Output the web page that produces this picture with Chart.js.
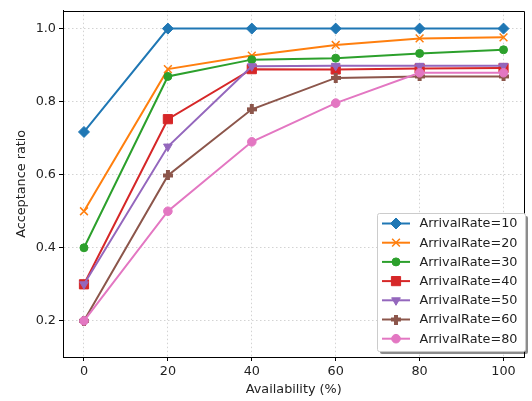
<!DOCTYPE html>
<html>
<head>
<meta charset="utf-8">
<script src="https://cdn.jsdelivr.net/npm/chart.js@4.4.0/dist/chart.umd.min.js"></script>
<style>
  html, body { margin: 0; padding: 0; background: #fff; }
  canvas { display: block; }
</style>
</head>
<body>
<canvas id="graficoAceitacao" width="532" height="401"></canvas>
<script>
// dados
const availability = [0, 20, 40, 60, 80, 100];
const seriesNames = ['ArrivalRate=10', 'ArrivalRate=20', 'ArrivalRate=30', 'ArrivalRate=40',
                     'ArrivalRate=50', 'ArrivalRate=60', 'ArrivalRate=80'];
const rate10 = [0.717, 1.0, 1.0, 1.0, 1.0, 1.0];
const rate20 = [0.5, 0.889, 0.926, 0.955, 0.973, 0.976];
const rate30 = [0.4, 0.869, 0.915, 0.919, 0.932, 0.942];
const rate40 = [0.3, 0.752, 0.889, 0.888, 0.891, 0.892];
const rate50 = [0.3, 0.677, 0.897, 0.898, 0.898, 0.898];
const rate60 = [0.2, 0.598, 0.779, 0.865, 0.869, 0.869];
const rate80 = [0.2, 0.5, 0.69, 0.796, 0.879, 0.879];
const yTicks = [0.2, 0.4, 0.6, 0.8, 1.0];
const xTicks = [0, 20, 40, 60, 80, 100];

const cores = ['#1f77b4', '#ff7f0e', '#2ca02c', '#d62728', '#9467bd', '#8c564b', '#e377c2'];
const fonte = 'DejaVu Sans';
const tamanho = 12.8;

// marcador "P" (cruz preenchida) feito num canvas pequeno
function criarCruz(cor) {
    const c = document.createElement('canvas');
    c.width = 10; c.height = 10;
    const g = c.getContext('2d');
    g.fillStyle = cor;
    g.fillRect(3, 0, 4, 10);
    g.fillRect(0, 3, 10, 4);
    return c;
}

const marcadores = [
    { pointStyle: 'rectRot', radius: 5.5, rotation: 0 },
    { pointStyle: 'crossRot', radius: 5.5, rotation: 0 },
    { pointStyle: 'circle', radius: 4, rotation: 0 },
    { pointStyle: 'rect', radius: 6.5, rotation: 0 },
    { pointStyle: 'triangle', radius: 5, rotation: 180 },
    { pointStyle: criarCruz(cores[5]), radius: 5, rotation: 0 },
    { pointStyle: 'circle', radius: 4.3, rotation: 0 }
];

const valores = [rate10, rate20, rate30, rate40, rate50, rate60, rate80];

const datasets = valores.map(function(v, i) {
    return {
        label: seriesNames[i],
        data: availability.map((x, k) => ({ x: x, y: v[k] })),
        borderColor: cores[i],
        backgroundColor: cores[i],
        borderWidth: 2,
        pointStyle: marcadores[i].pointStyle,
        pointRadius: marcadores[i].radius,
        pointRotation: marcadores[i].rotation,
        pointBackgroundColor: cores[i],
        pointBorderColor: cores[i],
        pointBorderWidth: i === 1 ? 1.5 : 1,
        pointHoverRadius: marcadores[i].radius,
        tension: 0,
        order: 10 - i
    };
});

// moldura (spines superior e direito) e legenda com sombra
const molduraELegenda = {
    id: 'molduraELegenda',
    afterDraw(chart) {
        const ctx = chart.ctx;
        const a = chart.chartArea;
        ctx.save();
        ctx.strokeStyle = '#000';
        ctx.lineWidth = 1;
        ctx.beginPath();
        ctx.moveTo(Math.round(a.left) + 0.5, Math.round(a.top) + 0.5);
        ctx.lineTo(Math.round(a.right) - 0.5, Math.round(a.top) + 0.5);
        ctx.lineTo(Math.round(a.right) - 0.5, Math.round(a.bottom) + 0.5);
        ctx.stroke();

        // legenda
        const bx = 377, by = 213, bw = 148, bh = 138;
        ctx.fillStyle = 'rgba(0,0,0,0.45)';
        ctx.beginPath();
        ctx.roundRect(bx + 3, by + 3, bw, bh, 2);
        ctx.fill();
        ctx.fillStyle = '#fff';
        ctx.strokeStyle = '#cccccc';
        ctx.beginPath();
        ctx.roundRect(bx + 0.5, by + 0.5, bw, bh, 2);
        ctx.fill();
        ctx.stroke();

        ctx.font = tamanho + 'px "' + fonte + '"';
        ctx.textBaseline = 'middle';
        ctx.textAlign = 'left';
        chart.data.datasets.forEach(function(ds, i) {
            const y = 223.5 + i * 19.2;
            ctx.strokeStyle = ds.borderColor;
            ctx.lineWidth = 2;
            ctx.beginPath();
            ctx.moveTo(382, y);
            ctx.lineTo(410, y);
            ctx.stroke();
            ctx.fillStyle = ds.pointBackgroundColor;
            ctx.strokeStyle = ds.pointBorderColor;
            ctx.lineWidth = ds.pointBorderWidth;
            Chart.helpers.drawPoint(ctx, {
                pointStyle: ds.pointStyle,
                rotation: ds.pointRotation,
                radius: ds.pointRadius,
                borderWidth: ds.pointBorderWidth
            }, 396, y);
            ctx.fillStyle = '#222';
            ctx.fillText(ds.label, 419.5, y + 0.5);
        });
        ctx.restore();
    }
};

new Chart(document.getElementById('graficoAceitacao'), {
    type: 'line',
    data: { datasets: datasets },
    plugins: [molduraELegenda],
    options: {
        responsive: false,
        animation: false,
        layout: { padding: { top: 9, right: 1, left: 0, bottom: 0 } },
        plugins: {
            legend: { display: false },
            tooltip: { enabled: false }
        },
        scales: {
            x: {
                type: 'linear',
                min: -5,
                max: 105,
                afterBuildTicks: function(scale) {
                    scale.ticks = xTicks.map(v => ({ value: v }));
                },
                afterFit: function(scale) { scale.height = 44; },
                grid: {
                    color: '#c8c8c8',
                    lineWidth: 0.8,
                    drawTicks: true,
                    tickLength: 4,
                    tickColor: '#000',
                    tickWidth: 1
                },
                border: { display: true, color: '#000', width: 1, dash: [1.5, 2.5] },
                ticks: {
                    color: '#222',
                    padding: 3,
                    maxRotation: 0,
                    font: { family: fonte, size: tamanho }
                },
                title: {
                    display: true,
                    text: 'Availability (%)',
                    color: '#222',
                    padding: { top: 0, bottom: 4 },
                    font: { family: fonte, size: tamanho }
                }
            },
            y: {
                type: 'linear',
                min: 0.101,
                max: 1.049,
                afterBuildTicks: function(scale) {
                    scale.ticks = yTicks.map(v => ({ value: v }));
                },
                afterFit: function(scale) { scale.width = 63; },
                grid: {
                    color: '#c8c8c8',
                    lineWidth: 0.8,
                    drawTicks: true,
                    tickLength: 4,
                    tickColor: '#000',
                    tickWidth: 1
                },
                border: { display: true, color: '#000', width: 1, dash: [1.5, 2.5] },
                ticks: {
                    color: '#222',
                    padding: 3,
                    callback: v => v.toFixed(1),
                    font: { family: fonte, size: tamanho }
                },
                title: {
                    display: true,
                    text: 'Acceptance ratio',
                    color: '#222',
                    padding: { top: 14, bottom: 0 },
                    font: { family: fonte, size: tamanho }
                }
            }
        }
    }
});
</script>
</body>
</html>
